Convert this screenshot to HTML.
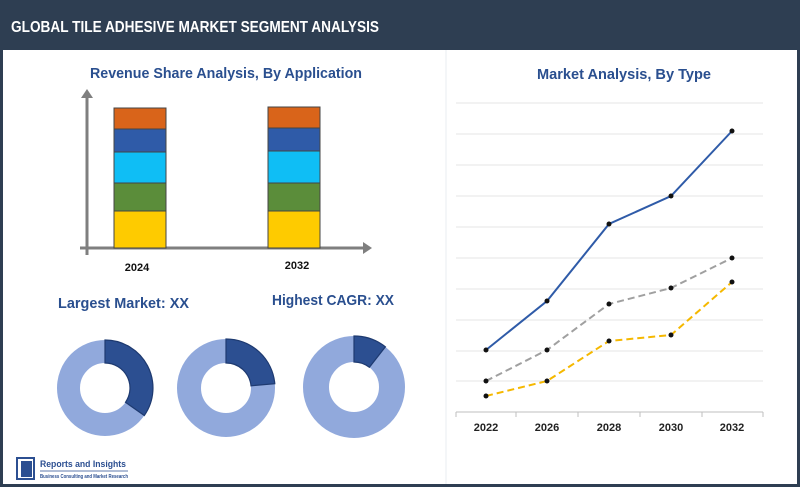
<!DOCTYPE html>
<html><head><meta charset="utf-8"><style>
body{margin:0;width:800px;height:487px;overflow:hidden;background:#fff;font-family:"Liberation Sans",sans-serif}
</style></head><body>
<svg width="800" height="487" viewBox="0 0 800 487" xmlns="http://www.w3.org/2000/svg" font-family="Liberation Sans, sans-serif">
<rect x="0" y="0" width="800" height="487" fill="#2e3e52"/>
<rect x="3" y="50" width="794" height="434" fill="#fff"/>
<text x="11" y="32" font-size="15.5" font-weight="bold" fill="#fff" textLength="368" lengthAdjust="spacingAndGlyphs">GLOBAL TILE ADHESIVE MARKET SEGMENT ANALYSIS</text>
<text x="90" y="78" font-size="15" font-weight="bold" fill="#2a4f8f" textLength="272" lengthAdjust="spacingAndGlyphs">Revenue Share Analysis, By Application</text>
<line x1="87" y1="95" x2="87" y2="255" stroke="#7f7f7f" stroke-width="3"/>
<polygon points="81,98 87,89 93,98" fill="#7f7f7f"/>
<line x1="80" y1="248" x2="365" y2="248" stroke="#7f7f7f" stroke-width="3"/>
<polygon points="363,242 372,248 363,254" fill="#7f7f7f"/>
<g stroke="#444" stroke-width="1">
<rect x="114" y="108" width="52" height="21" fill="#d9641a"/>
<rect x="114" y="129" width="52" height="23" fill="#2f5ba8"/>
<rect x="114" y="152" width="52" height="31" fill="#0fbef5"/>
<rect x="114" y="183" width="52" height="28" fill="#5b8d3a"/>
<rect x="114" y="211" width="52" height="37" fill="#fecb00"/>
<rect x="268" y="107" width="52" height="21" fill="#d9641a"/>
<rect x="268" y="128" width="52" height="23" fill="#2f5ba8"/>
<rect x="268" y="151" width="52" height="32" fill="#0fbef5"/>
<rect x="268" y="183" width="52" height="28" fill="#5b8d3a"/>
<rect x="268" y="211" width="52" height="37" fill="#fecb00"/>
</g>
<text x="137" y="271" font-size="11" font-weight="bold" text-anchor="middle" fill="#111">2024</text>
<text x="297" y="269" font-size="11" font-weight="bold" text-anchor="middle" fill="#111">2032</text>
<text x="58" y="308" font-size="15" font-weight="bold" fill="#2a4f8f" textLength="131" lengthAdjust="spacingAndGlyphs">Largest Market: XX</text>
<text x="272" y="305" font-size="15" font-weight="bold" fill="#2a4f8f" textLength="122" lengthAdjust="spacingAndGlyphs">Highest CAGR: XX</text>
<g stroke="#6f87b8" stroke-width="1.2">
<circle cx="105" cy="388" r="36.5" fill="none" stroke="#91a9dc" stroke-width="23"/>
<path d="M105,340 A48,48 0 0 1 144.3,415.5 L125.5,402.3 A25,25 0 0 0 105,363 Z" fill="#2c4f91" stroke="#1e3a70"/>
<circle cx="226" cy="388" r="37" fill="none" stroke="#91a9dc" stroke-width="24"/>
<path d="M226,339 A49,49 0 0 1 274.8,383.7 L251,385.8 A25,25 0 0 0 226,363 Z" fill="#2c4f91" stroke="#1e3a70"/>
<circle cx="354" cy="387" r="38" fill="none" stroke="#91a9dc" stroke-width="26"/>
<path d="M354,336 A51,51 0 0 1 385.4,346.8 L369.4,367.3 A25,25 0 0 0 354,362 Z" fill="#2c4f91" stroke="#1e3a70"/>
</g>
<rect x="17" y="458" width="17" height="21" fill="none" stroke="#2c4f91" stroke-width="2"/>
<rect x="21" y="461" width="11" height="16" fill="#2c4f91"/>
<text x="40" y="467" font-size="9.5" font-weight="bold" fill="#2c4f91" textLength="86" lengthAdjust="spacingAndGlyphs">Reports and Insights</text>
<line x1="40" y1="471" x2="128" y2="471" stroke="#2c4f91" stroke-width="0.8"/>
<text x="40" y="478" font-size="5" font-weight="bold" fill="#2c4f91" textLength="88" lengthAdjust="spacingAndGlyphs">Business Consulting and Market Research</text>
<line x1="446" y1="50" x2="446" y2="484" stroke="#e8ecf2" stroke-width="1"/>
<text x="537" y="79" font-size="15" font-weight="bold" fill="#2a4f8f" textLength="174" lengthAdjust="spacingAndGlyphs">Market Analysis, By Type</text>
<g stroke="#e6e6e6" stroke-width="1">
<line x1="456" y1="103" x2="763" y2="103"/><line x1="456" y1="134" x2="763" y2="134"/>
<line x1="456" y1="165" x2="763" y2="165"/><line x1="456" y1="196" x2="763" y2="196"/>
<line x1="456" y1="227" x2="763" y2="227"/><line x1="456" y1="258" x2="763" y2="258"/>
<line x1="456" y1="289" x2="763" y2="289"/><line x1="456" y1="320" x2="763" y2="320"/>
<line x1="456" y1="351" x2="763" y2="351"/><line x1="456" y1="381" x2="763" y2="381"/>
</g>
<g stroke="#bfbfbf" stroke-width="1">
<line x1="456" y1="412" x2="763" y2="412"/>
<line x1="456" y1="412" x2="456" y2="417"/><line x1="516" y1="412" x2="516" y2="417"/>
<line x1="578" y1="412" x2="578" y2="417"/><line x1="640" y1="412" x2="640" y2="417"/>
<line x1="702" y1="412" x2="702" y2="417"/><line x1="763" y1="412" x2="763" y2="417"/>
</g>
<g font-size="11" font-weight="bold" fill="#222" text-anchor="middle">
<text x="486" y="431">2022</text><text x="547" y="431">2026</text><text x="609" y="431">2028</text><text x="671" y="431">2030</text><text x="732" y="431">2032</text>
</g>
<polyline points="486,350 547,301 609,224 671,196 732,131" fill="none" stroke="#2f5ba8" stroke-width="2"/>
<polyline points="486,381 547,350 609,304 671,288 732,258" fill="none" stroke="#a0a0a0" stroke-width="2" stroke-dasharray="7,4"/>
<polyline points="486,396 547,381 609,341 671,335 732,282" fill="none" stroke="#f5b800" stroke-width="2" stroke-dasharray="7,4"/>
<g fill="#111">
<circle cx="486" cy="350" r="2.5"/><circle cx="547" cy="301" r="2.5"/><circle cx="609" cy="224" r="2.5"/><circle cx="671" cy="196" r="2.5"/><circle cx="732" cy="131" r="2.5"/>
<circle cx="486" cy="381" r="2.5"/><circle cx="547" cy="350" r="2.5"/><circle cx="609" cy="304" r="2.5"/><circle cx="671" cy="288" r="2.5"/><circle cx="732" cy="258" r="2.5"/>
<circle cx="486" cy="396" r="2.5"/><circle cx="547" cy="381" r="2.5"/><circle cx="609" cy="341" r="2.5"/><circle cx="671" cy="335" r="2.5"/><circle cx="732" cy="282" r="2.5"/>
</g>
</svg>
</body></html>
